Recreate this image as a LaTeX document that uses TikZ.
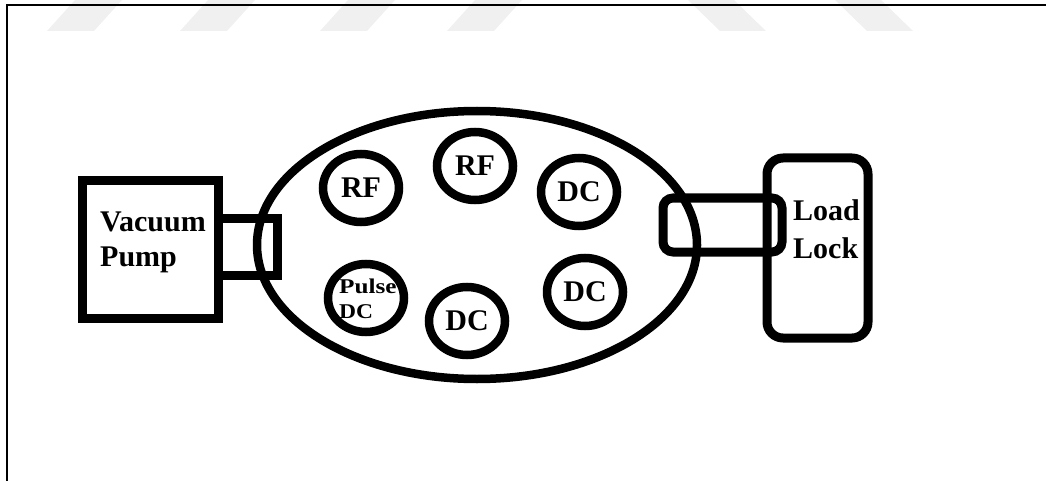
\documentclass[tikz,border=0pt]{standalone}
\usepackage{fontspec}
\setmainfont{Liberation Serif}
\usetikzlibrary{shapes.geometric}
\begin{document}
\begin{tikzpicture}[x=1pt,y=-1pt,
  thick line/.style={draw=black,line width=9pt},
  target/.style={draw=black,line width=8.5pt,ellipse,inner sep=0pt,minimum width=76pt,minimum height=68pt,font=\fontsize{30}{34}\selectfont\bfseries},
  lbl/.style={inner sep=0pt,font=\fontsize{30}{34}\selectfont\bfseries},
  wm/.style={fill=black!6,draw=none},
  border/.style={draw=black,line width=2pt}]
\useasboundingbox (0,0) rectangle (1046,481);
% faint watermark stripes
\foreach \a in {47,180,320,447}{
  \fill[wm] (\a,31) -- (\a+47,31) -- (\a+47+28,0) -- (\a+28,0) -- cycle;}
\foreach \a in {720,867}{
  \fill[wm] (\a,31) -- (\a+46,31) -- (\a+46-32,0) -- (\a-32,0) -- cycle;}
% page border
\coordinate (bl) at (7.3,481);
\coordinate (tr) at (1046,5.5);
\draw[border] (bl) |- (tr);
% vacuum pump
\node[thick line,rectangle,inner sep=0pt,minimum width=136pt,minimum height=137pt] (vpump) at (150,249.5) {};
\node[lbl,anchor=base west] (vac) at (100,231) {Vacuum};
\node[lbl,anchor=base west] (pump) at (100,266) {Pump};
% left port
\node[thick line,rectangle,inner sep=0pt,minimum width=59pt,minimum height=57pt] (lport) at (247.5,246.5) {};
% chamber
\node[draw=black,line width=8.5pt,ellipse,inner sep=0pt,minimum width=440pt,minimum height=268pt] (chamber) at (477,245) {};
% targets
\node[target] (rf1) at (361,188) {RF};
\node[target] (rf2) at (475,166) {RF};
\node[target] (dc1) at (579,192) {DC};
\node[target] (dc2) at (585,292) {DC};
\node[target] (dc3) at (467,321) {DC};
\node[target] (pdc) at (366,298) {};
\node[inner sep=0pt,anchor=base west,font=\fontsize{21}{24}\selectfont\bfseries] (pulse) at (339,293) {\scalebox{1.2}[1]{Pulse}};
\node[inner sep=0pt,anchor=base west,font=\fontsize{21}{24}\selectfont\bfseries] (pdctxt) at (339,318) {\scalebox{1.12}[1]{DC}};
% load lock
\node[thick line,rectangle,rounded corners=16pt,inner sep=0pt,minimum width=101pt,minimum height=180pt] (llock) at (817.5,248) {};
\node[lbl,anchor=base west] (load) at (793,220) {Load};
\node[lbl,anchor=base west] (lock) at (793,258) {Lock};
% right port
\node[thick line,rectangle,rounded corners=10pt,inner sep=0pt,minimum width=119pt,minimum height=54pt] (rport) at (722.5,225) {};
\end{tikzpicture}
\end{document}
